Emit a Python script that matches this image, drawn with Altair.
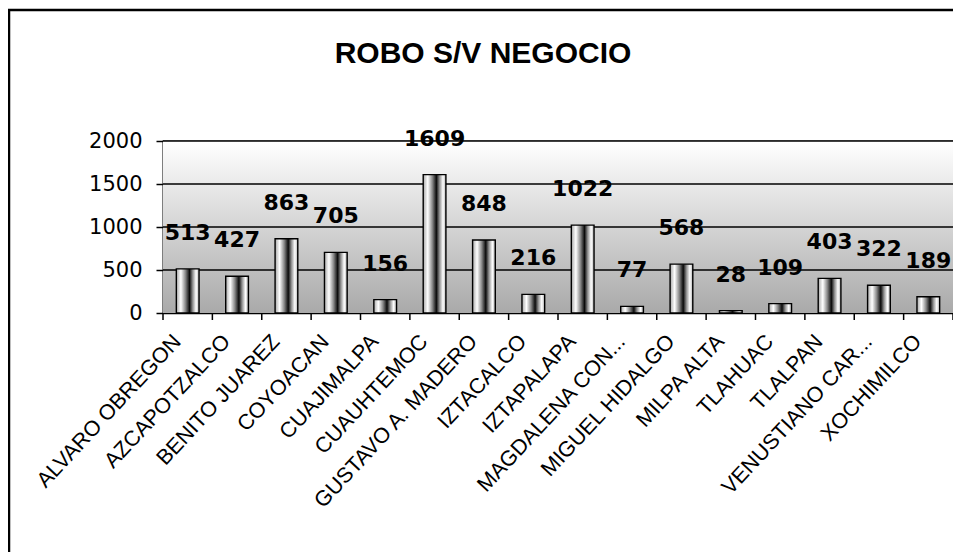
import altair as alt
import pandas as pd

categories = ["ALVARO OBREGON", "AZCAPOTZALCO", "BENITO JUAREZ", "COYOACAN",
              "CUAJIMALPA", "CUAUHTEMOC", "GUSTAVO A. MADERO", "IZTACALCO",
              "IZTAPALAPA", "MAGDALENA CON...", "MIGUEL HIDALGO", "MILPA ALTA",
              "TLAHUAC", "TLALPAN", "VENUSTIANO CAR...", "XOCHIMILCO"]
values = [513, 427, 863, 705, 156, 1609, 848, 216, 1022, 77, 568, 28, 109, 403, 322, 189]
y_ticks = [0, 500, 1000, 1500, 2000]
title_text = "ROBO S/V NEGOCIO"

W, H = 790, 172
df = pd.DataFrame({"cat": categories, "val": values})
grid_df = pd.DataFrame({"v": y_ticks[1:]})
one = pd.DataFrame({"t": [title_text]})

xscale = alt.Scale(domain=categories, paddingInner=0, paddingOuter=0)
yscale = alt.Scale(domain=[0, 2000], nice=False)

x_axis = alt.Axis(labelAngle=-47, labelFont="Liberation Sans", labelFontSize=21.5,
                  labelColor="black", labelPadding=25, labelOffset=-10, labelLimit=0,
                  ticks=False, domainColor="black", domainWidth=1.5, title=None)
y_axis = alt.Axis(values=y_ticks, format="d", grid=False, labelFont="DejaVu Sans",
                  labelFontSize=21, labelColor="black", labelPadding=14,
                  tickSize=7, tickColor="black", tickWidth=1.5,
                  domainColor="black", domainWidth=1.5, title=None)

bg_grad = alt.LinearGradient(
    gradient="linear",
    stops=[alt.GradientStop(color="#ffffff", offset=0),
           alt.GradientStop(color="#a9a9a9", offset=1)],
    x1=0, x2=0, y1=0, y2=1)

bar_grad = alt.LinearGradient(
    gradient="linear",
    stops=[alt.GradientStop(color="#a8a8a8", offset=0),
           alt.GradientStop(color="#ffffff", offset=0.2),
           alt.GradientStop(color="#8a8a8a", offset=0.4),
           alt.GradientStop(color="#0a0a0a", offset=0.58),
           alt.GradientStop(color="#909090", offset=0.72),
           alt.GradientStop(color="#ffffff", offset=0.87),
           alt.GradientStop(color="#b0b0b0", offset=1)],
    x1=0, x2=1, y1=0, y2=0)

frame_top = alt.Chart(one).mark_rule(color="black", strokeWidth=2.5).encode(
    x=alt.value(-155), x2=alt.value(W + 40), y=alt.value(-131))
frame_left = alt.Chart(one).mark_rule(color="black", strokeWidth=2.5).encode(
    x=alt.value(-154), y=alt.value(-132), y2=alt.value(H + 260))

bg = alt.Chart(one).mark_rect(fill=bg_grad).encode(
    x=alt.value(0), x2=alt.value(W), y=alt.value(0), y2=alt.value(H))

grid = alt.Chart(grid_df).mark_rule(color="black", strokeWidth=1.4).encode(
    y=alt.Y("v:Q", scale=yscale, axis=y_axis),
    x=alt.value(0), x2=alt.value(W))

bars = alt.Chart(df).mark_bar(
    width=alt.RelativeBandSize(0.46), fill=bar_grad, stroke="black", strokeWidth=1.4
).encode(
    x=alt.X("cat:N", scale=xscale, sort=categories, axis=x_axis),
    y=alt.Y("val:Q", scale=yscale, axis=y_axis))

labels = alt.Chart(df).mark_text(
    dy=-36, fontSize=22, fontWeight="bold", font="DejaVu Sans", baseline="middle",
    align="center", color="black"
).encode(
    x=alt.X("cat:N", scale=xscale, sort=categories, axis=x_axis),
    y=alt.Y("val:Q", scale=yscale, axis=y_axis),
    text=alt.Text("val:Q"))

xticks = alt.Chart(df).mark_rule(color="black", strokeWidth=1.5).encode(
    x=alt.X("cat:N", scale=xscale, sort=categories, bandPosition=0, axis=x_axis),
    y=alt.value(H), y2=alt.value(H + 7))

xtick_end = alt.Chart(one).mark_rule(color="black", strokeWidth=1.5).encode(
    x=alt.value(W), y=alt.value(H), y2=alt.value(H + 7))

title = alt.Chart(one).mark_text(
    fontSize=30, fontWeight="bold", font="Liberation Sans", align="center",
    baseline="alphabetic", color="black"
).encode(x=alt.value(320), y=alt.value(-78), text="t:N")

chart = alt.layer(frame_top, frame_left, bg, grid, bars, labels, xticks, xtick_end,
                  title).properties(
    width=W, height=H,
    autosize=alt.AutoSizeParams(type="none"),
    padding={"left": 155, "top": 133, "right": 0, "bottom": 239},
).configure_view(stroke="#8c8c8c", strokeWidth=1.5)

chart.save("out.html", embed_options={"renderer": "svg", "actions": False})
